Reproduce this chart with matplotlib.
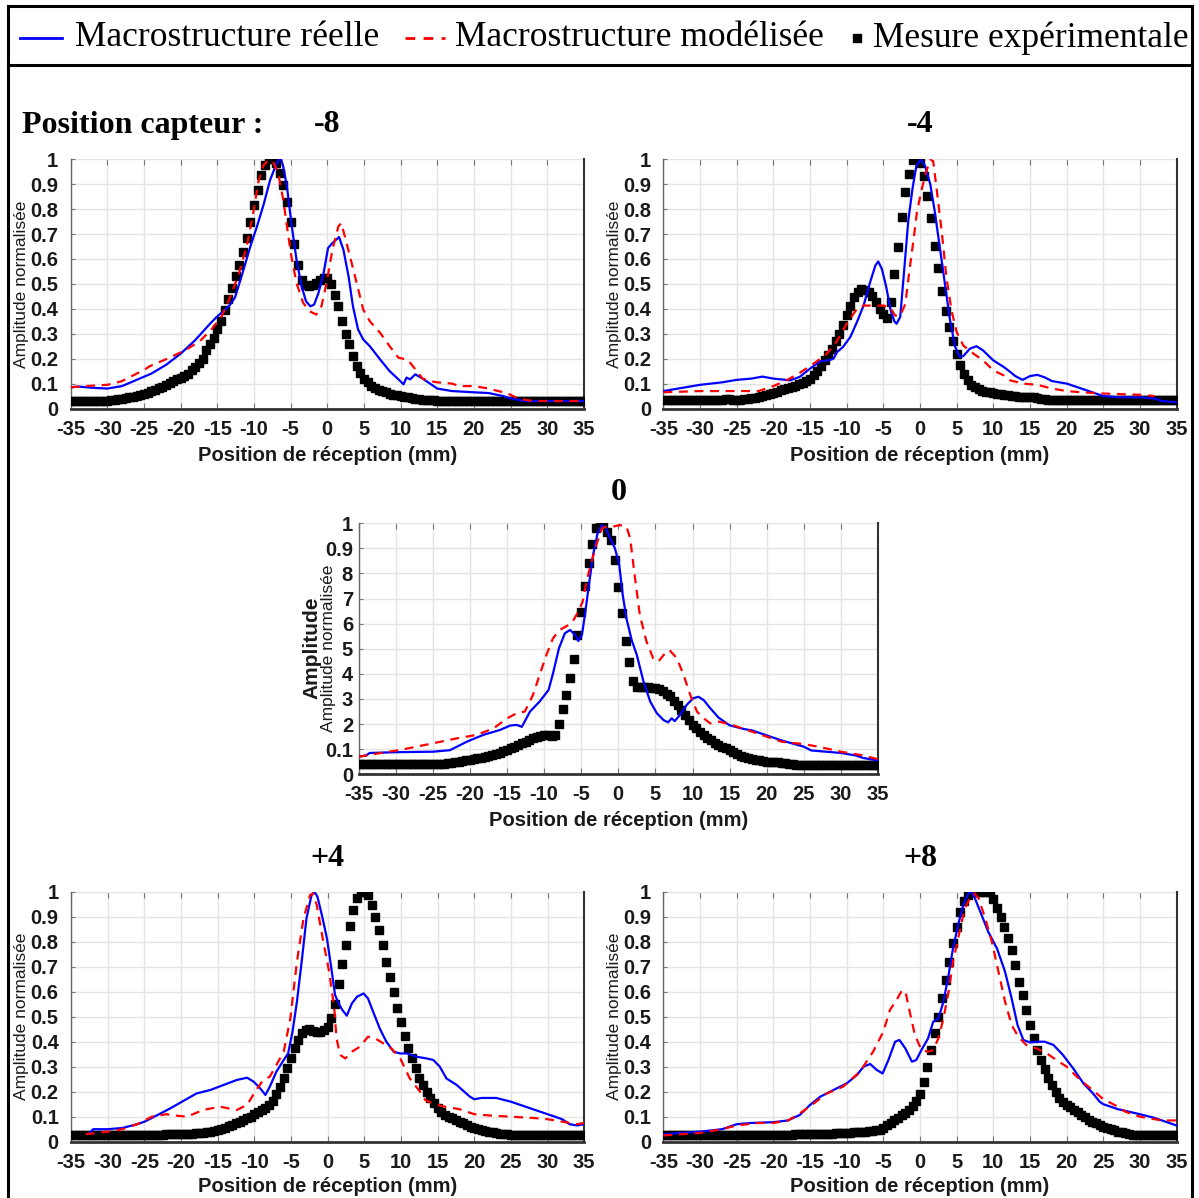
import numpy as np
import matplotlib
matplotlib.use("Agg")
import matplotlib.pyplot as plt
from matplotlib.lines import Line2D

W, H = 1199, 1198

# positions de réception des mesures (pas de 0.5 mm)
x_mes = np.arange(-35, 35.01, 0.5)

# ---------- capteur -8 ----------
mes_m8 = [
    0.03, 0.03, 0.03, 0.03, 0.03, 0.03, 0.03, 0.03, 0.03, 0.031,
    0.032, 0.034, 0.036, 0.038, 0.04, 0.042, 0.045, 0.048, 0.05, 0.054,
    0.058, 0.063, 0.07, 0.076, 0.082, 0.088, 0.095, 0.103, 0.11, 0.118,
    0.124, 0.132, 0.14, 0.155, 0.166, 0.182, 0.2, 0.235, 0.26, 0.284,
    0.32, 0.35, 0.395, 0.44, 0.484, 0.53, 0.575, 0.63, 0.684, 0.747,
    0.817, 0.877, 0.937, 0.977, 1.0, 1.0, 0.984, 0.947, 0.895, 0.828,
    0.75, 0.66, 0.577, 0.517, 0.495, 0.49, 0.495, 0.503, 0.515, 0.524,
    0.522, 0.5, 0.457, 0.41, 0.35, 0.3, 0.26, 0.21, 0.172, 0.141,
    0.12, 0.105, 0.09, 0.083, 0.076, 0.07, 0.065, 0.06, 0.056, 0.053,
    0.05, 0.048, 0.045, 0.041, 0.039, 0.037, 0.036, 0.035, 0.034, 0.033,
    0.032, 0.031, 0.03, 0.03, 0.03, 0.03, 0.03, 0.03, 0.03, 0.03,
    0.03, 0.03, 0.03, 0.03, 0.03, 0.03, 0.03, 0.03, 0.03, 0.03,
    0.03, 0.03, 0.03, 0.03, 0.03, 0.03, 0.03, 0.03, 0.03, 0.03,
    0.03, 0.03, 0.03, 0.03, 0.03, 0.03, 0.03, 0.03, 0.03, 0.03,
    0.03]
reel_m8_x = [-35, -34, -32, -30, -28, -26, -24, -22, -20, -18,
             -16, -15, -14, -13.3, -12.6, -11.7, -10.5, -9.6, -8.7, -7.8,
             -7.1, -6.6, -6.3, -6.0, -5.5, -4.9, -4.2, -3.5, -2.9, -2.3,
             -1.8, -1.2, -0.5, 0.1, 0.7, 1.3, 1.6, 2.2, 2.9, 3.5,
             4.2, 4.9, 5.8, 7.2, 8.5, 9.7, 10.4, 10.8, 11.3, 12.0,
             13, 14, 15, 17, 20, 22, 24, 25, 26, 27, 35]
reel_m8_y = [0.085, 0.088, 0.083, 0.08, 0.09, 0.115, 0.14, 0.175, 0.22, 0.275,
             0.34, 0.37, 0.395, 0.415, 0.445, 0.53, 0.65, 0.73, 0.817, 0.917,
             0.97, 1.0, 1.0, 0.97, 0.89, 0.744, 0.597, 0.49, 0.43, 0.41,
             0.417, 0.464, 0.544, 0.644, 0.664, 0.68, 0.688, 0.637, 0.53, 0.41,
             0.317, 0.277, 0.25, 0.197, 0.15, 0.117, 0.097, 0.124, 0.117, 0.137,
             0.12, 0.1, 0.08, 0.07, 0.065, 0.062, 0.05, 0.04, 0.035, 0.03, 0.03]
mod_m8_x = [-35, -33, -30, -28, -25, -24.2, -21.5, -19.2, -17.4, -15.8,
            -14.4, -13.3, -12.1, -11.0, -10.1, -9.4, -8.7, -8.0, -7.4, -6.7,
            -6.0, -5.5, -4.9, -4.2, -3.3, -2.4, -1.5, -0.8, -0.1, 0.7,
            1.5, 1.9, 2.4, 3.1, 4.0, 4.9, 5.8, 7.2, 8.5, 9.7,
            11.0, 12.2, 13, 14, 15, 17, 18, 20, 22, 24,
            25, 26, 27, 28, 35]
mod_m8_y = [0.085, 0.09, 0.095, 0.11, 0.155, 0.17, 0.204, 0.237, 0.27, 0.317,
            0.37, 0.444, 0.537, 0.65, 0.784, 0.91, 0.977, 0.997, 0.99, 0.944,
            0.837, 0.73, 0.61, 0.504, 0.424, 0.39, 0.377, 0.41, 0.504, 0.637,
            0.73, 0.744, 0.69, 0.61, 0.504, 0.397, 0.35, 0.304, 0.25, 0.204,
            0.195, 0.15, 0.12, 0.11, 0.105, 0.1, 0.09, 0.09, 0.08, 0.065,
            0.055, 0.04, 0.035, 0.03, 0.03]

# ---------- capteur -4 ----------
mes_m4 = [
    0.035, 0.035, 0.035, 0.035, 0.035, 0.035, 0.035, 0.035, 0.035, 0.035,
    0.035, 0.035, 0.035, 0.035, 0.035, 0.036, 0.036, 0.038, 0.037, 0.035,
    0.035, 0.036, 0.038, 0.04, 0.042, 0.044, 0.047, 0.05, 0.055, 0.06,
    0.064, 0.068, 0.073, 0.077, 0.082, 0.087, 0.092, 0.097, 0.103, 0.11,
    0.118, 0.133, 0.15, 0.17, 0.195, 0.215, 0.24, 0.27, 0.3, 0.335,
    0.375, 0.41, 0.447, 0.467, 0.48, 0.476, 0.467, 0.45, 0.427, 0.4,
    0.38, 0.364, 0.427, 0.54, 0.647, 0.767, 0.867, 0.943, 0.997, 1.0,
    0.987, 0.933, 0.853, 0.763, 0.653, 0.564, 0.473, 0.39, 0.327, 0.27,
    0.22, 0.173, 0.14, 0.113, 0.093, 0.085, 0.078, 0.072, 0.068, 0.065,
    0.062, 0.06, 0.058, 0.056, 0.054, 0.052, 0.05, 0.048, 0.047, 0.046,
    0.045, 0.045, 0.042, 0.04, 0.038, 0.036, 0.035, 0.035, 0.035, 0.035,
    0.035, 0.035, 0.035, 0.035, 0.035, 0.035, 0.035, 0.035, 0.035, 0.035,
    0.035, 0.035, 0.035, 0.035, 0.035, 0.035, 0.035, 0.035, 0.035, 0.035,
    0.035, 0.035, 0.035, 0.035, 0.035, 0.035, 0.035, 0.035, 0.035, 0.035,
    0.035]
reel_m4_x = [-35, -32, -30, -27, -25, -23, -21.5, -20, -17.7, -16.4,
             -15, -13.6, -12.5, -11.8, -11.3, -10.5, -9.5, -8.6, -7.7, -6.8,
             -6.1, -5.7, -5.2, -4.6, -4.0, -3.5, -3.2, -2.7, -2.2, -1.6,
             -1.0, -0.5, 0.1, 0.7, 1.4, 2.0, 2.7, 3.4, 4.1, 4.8,
             5.4, 5.9, 6.8, 7.7, 8.6, 10.0, 11.4, 12.3, 13, 14,
             15, 16, 17, 18, 20, 22, 24, 25, 27, 30,
             32, 33, 35]
reel_m4_y = [0.07, 0.085, 0.095, 0.105, 0.115, 0.12, 0.128, 0.12, 0.113, 0.127,
             0.16, 0.19, 0.193, 0.2, 0.227, 0.247, 0.287, 0.347, 0.413, 0.507,
             0.573, 0.59, 0.56, 0.487, 0.393, 0.35, 0.34, 0.367, 0.54, 0.753,
             0.887, 0.973, 1.0, 0.973, 0.9, 0.793, 0.647, 0.5, 0.353, 0.247,
             0.207, 0.21, 0.24, 0.25, 0.233, 0.193, 0.167, 0.147, 0.13, 0.115,
             0.13, 0.135, 0.125, 0.11, 0.1, 0.08, 0.06, 0.05, 0.045, 0.045,
             0.04, 0.03, 0.025]
mod_m4_x = [-35, -30, -25, -22, -20, -18.2, -16.4, -14.5, -12.7, -11.4,
            -10, -8.6, -7.7, -6.4, -5.0, -4.1, -3.4, -2.7, -2.0, -1.5,
            -0.9, -0.4, 0.3, 0.8, 1.4, 1.8, 2.3, 3.0, 3.6, 4.3,
            5.0, 5.9, 7.3, 8.6, 10.0, 11.4, 12.3, 14, 16, 18,
            20, 22, 25, 30, 32]
mod_m4_y = [0.065, 0.07, 0.07, 0.07, 0.09, 0.113, 0.143, 0.18, 0.22, 0.267,
            0.34, 0.4, 0.413, 0.413, 0.413, 0.407, 0.373, 0.373, 0.42, 0.54,
            0.673, 0.793, 0.887, 0.947, 0.997, 0.993, 0.873, 0.7, 0.527, 0.393,
            0.307, 0.253, 0.22, 0.193, 0.153, 0.133, 0.113, 0.1, 0.095, 0.08,
            0.07, 0.065, 0.06, 0.055, 0.05]

# ---------- capteur 0 ----------
mes_0 = [
    0.04, 0.04, 0.04, 0.04, 0.04, 0.04, 0.04, 0.04, 0.04, 0.04,
    0.04, 0.04, 0.04, 0.04, 0.04, 0.04, 0.04, 0.04, 0.04, 0.04,
    0.04, 0.041, 0.042, 0.043, 0.045, 0.046, 0.048, 0.05, 0.052, 0.055,
    0.056, 0.06, 0.063, 0.066, 0.07, 0.074, 0.078, 0.082, 0.086, 0.092,
    0.097, 0.103, 0.11, 0.117, 0.123, 0.13, 0.138, 0.146, 0.15, 0.154,
    0.156, 0.157, 0.152, 0.155, 0.2, 0.26, 0.316, 0.382, 0.458, 0.555,
    0.648, 0.75, 0.843, 0.916, 0.98, 1.0, 0.996, 0.967, 0.934, 0.854,
    0.748, 0.641, 0.531, 0.449, 0.372, 0.349, 0.347, 0.347, 0.346, 0.345,
    0.342, 0.338, 0.33, 0.32, 0.31, 0.293, 0.276, 0.256, 0.236, 0.216,
    0.197, 0.183, 0.17, 0.158, 0.146, 0.135, 0.124, 0.116, 0.11, 0.103,
    0.096, 0.088, 0.08, 0.074, 0.068, 0.064, 0.06, 0.057, 0.055, 0.053,
    0.05, 0.05, 0.05, 0.049, 0.047, 0.045, 0.042, 0.04, 0.038, 0.037,
    0.037, 0.037, 0.037, 0.037, 0.037, 0.037, 0.037, 0.037, 0.037, 0.037,
    0.037, 0.037, 0.037, 0.037, 0.037, 0.037, 0.037, 0.037, 0.037, 0.037,
    0.037]
reel_0_x = [-35, -34, -33.5, -30, -25, -22.7, -20.4, -18.2, -15.9, -14.6,
            -13.7, -13.0, -11.9, -10.6, -9.4, -8.8, -8.0, -7.2, -6.5, -5.8,
            -5.4, -4.9, -4.5, -3.9, -3.4, -2.8, -2.2, -1.7, -1.1, -0.45,
            0.13, 0.6, 1.1, 1.8, 2.5, 3.4, 4.3, 5.2, 6.1, 6.7,
            7.2, 7.6, 8.3, 9.2, 10.1, 10.8, 11.5, 12.4, 13.5, 15,
            17, 18, 20, 22, 25, 26, 28, 30, 32, 33, 35]
reel_0_y = [0.07, 0.075, 0.085, 0.088, 0.09, 0.096, 0.13, 0.157, 0.177, 0.194,
            0.197, 0.189, 0.25, 0.29, 0.336, 0.402, 0.502, 0.562, 0.575, 0.555,
            0.531, 0.555, 0.635, 0.768, 0.874, 0.96, 0.993, 0.983, 0.94, 0.9,
            0.834, 0.714, 0.621, 0.535, 0.475, 0.369, 0.29, 0.243, 0.216, 0.207,
            0.223, 0.212, 0.236, 0.276, 0.303, 0.309, 0.296, 0.263, 0.226, 0.195,
            0.18, 0.175, 0.155, 0.135, 0.11, 0.095, 0.09, 0.085, 0.075, 0.065, 0.055]
mod_0_x = [-35, -32, -29.4, -24.9, -21.8, -19.1, -16.8, -15.0, -13.7, -12.6,
           -11.5, -10.6, -9.7, -8.8, -7.9, -6.7, -6.1, -5.4, -4.8, -4.3,
           -3.6, -2.9, -2.2, -1.6, -0.7, 0.2, 1.1, 1.6, 2.2, 2.9,
           3.8, 4.7, 5.4, 6.1, 6.9, 7.9, 8.8, 9.7, 10.6, 11.5,
           12.4, 13.5, 15, 17, 20, 22, 25, 27, 30, 33, 35]
mod_0_y = [0.07, 0.085, 0.097, 0.124, 0.143, 0.157, 0.183, 0.223, 0.243, 0.25,
           0.316, 0.396, 0.475, 0.542, 0.575, 0.595, 0.611, 0.648, 0.688, 0.768,
           0.847, 0.92, 0.98, 0.987, 0.987, 0.993, 0.987, 0.94, 0.794, 0.635,
           0.529, 0.462, 0.449, 0.475, 0.495, 0.462, 0.396, 0.316, 0.25, 0.223,
           0.203, 0.21, 0.2, 0.18, 0.15, 0.13, 0.12, 0.11, 0.09, 0.075, 0.06]

# ---------- capteur +4 ----------
mes_p4 = [
    0.028, 0.028, 0.028, 0.028, 0.028, 0.028, 0.028, 0.028, 0.028, 0.028,
    0.028, 0.028, 0.028, 0.028, 0.028, 0.028, 0.028, 0.028, 0.028, 0.028,
    0.028, 0.028, 0.028, 0.028, 0.028, 0.028, 0.029, 0.029, 0.029, 0.03,
    0.03, 0.031, 0.031, 0.032, 0.033, 0.034, 0.035, 0.037, 0.039, 0.041,
    0.046, 0.05, 0.055, 0.061, 0.067, 0.073, 0.08, 0.086, 0.093, 0.1,
    0.11, 0.117, 0.125, 0.135, 0.147, 0.162, 0.19, 0.218, 0.256, 0.293,
    0.333, 0.373, 0.407, 0.433, 0.447, 0.451, 0.444, 0.44, 0.44, 0.447,
    0.457, 0.493, 0.551, 0.629, 0.711, 0.787, 0.864, 0.927, 0.973, 0.997,
    1.0, 0.987, 0.947, 0.9, 0.847, 0.787, 0.72, 0.66, 0.6, 0.536,
    0.48, 0.424, 0.373, 0.333, 0.293, 0.253, 0.227, 0.2, 0.173, 0.153,
    0.133, 0.12, 0.108, 0.1, 0.093, 0.087, 0.08, 0.073, 0.067, 0.06,
    0.055, 0.052, 0.048, 0.044, 0.04, 0.037, 0.035, 0.032, 0.03, 0.029,
    0.028, 0.028, 0.028, 0.028, 0.028, 0.028, 0.028, 0.028, 0.028, 0.028,
    0.028, 0.028, 0.028, 0.028, 0.028, 0.028, 0.028, 0.028, 0.028, 0.028,
    0.028]
reel_p4_x = [-32.5, -32, -30, -28, -26, -25, -23, -21.5, -19.7, -17.9,
             -16.0, -14.2, -12.4, -11.0, -10.1, -9.2, -8.5, -7.9, -7.0, -6.0,
             -5.4, -4.8, -4.2, -3.5, -2.9, -2.2, -1.8, -1.4, -0.8, -0.1,
             0.5, 1.0, 1.5, 2.0, 2.6, 3.3, 4.0, 4.9, 5.5, 6.2,
             7.1, 8.0, 9.0, 9.9, 10.8, 12.1, 13.5, 14.4, 15.3, 16.2,
             17.6, 19.4, 20, 21, 23, 25, 27, 30, 32, 33, 34, 35]
reel_p4_y = [0.035, 0.05, 0.05, 0.055, 0.07, 0.08, 0.11, 0.133, 0.163, 0.193,
             0.207, 0.227, 0.247, 0.256, 0.24, 0.213, 0.187, 0.22, 0.28, 0.327,
             0.353, 0.44, 0.56, 0.733, 0.893, 0.987, 1.0, 0.98, 0.907, 0.813,
             0.693, 0.587, 0.553, 0.527, 0.504, 0.553, 0.58, 0.593, 0.573, 0.52,
             0.453, 0.4, 0.36, 0.353, 0.353, 0.34, 0.333, 0.327, 0.3, 0.253,
             0.227, 0.18, 0.17, 0.175, 0.175, 0.16, 0.14, 0.11, 0.09, 0.07, 0.065, 0.07]
mod_p4_x = [-33, -30, -28, -26, -24, -22, -21.5, -19.2, -17.0, -14.7,
            -12.4, -11.0, -9.9, -8.8, -7.9, -7.0, -6.0, -5.1, -4.2, -3.3,
            -2.4, -2.0, -1.5, -0.6, 0.2, 0.9, 1.2, 1.7, 2.4, 3.3,
            4.4, 5.5, 6.5, 7.6, 8.7, 9.9, 11.2, 12.6, 13.3, 14.5,
            16, 18, 20, 22, 25, 28, 30, 32, 34, 35]
mod_p4_y = [0.03, 0.04, 0.05, 0.07, 0.1, 0.11, 0.107, 0.1, 0.127, 0.14,
            0.127, 0.147, 0.2, 0.247, 0.26, 0.307, 0.36, 0.493, 0.72, 0.893,
            0.987, 0.993, 0.947, 0.8, 0.68, 0.533, 0.413, 0.347, 0.333, 0.36,
            0.38, 0.42, 0.413, 0.393, 0.373, 0.333, 0.253, 0.2, 0.167, 0.15,
            0.14, 0.13, 0.11, 0.105, 0.1, 0.095, 0.09, 0.08, 0.07, 0.075]

# ---------- capteur +8 ----------
mes_p8 = [
    0.025, 0.025, 0.025, 0.025, 0.025, 0.025, 0.025, 0.025, 0.025, 0.025,
    0.025, 0.025, 0.025, 0.025, 0.025, 0.025, 0.025, 0.025, 0.025, 0.025,
    0.025, 0.025, 0.025, 0.025, 0.025, 0.026, 0.026, 0.026, 0.026, 0.027,
    0.027, 0.027, 0.027, 0.028, 0.028, 0.028, 0.029, 0.029, 0.029, 0.03,
    0.03, 0.03, 0.031, 0.031, 0.031, 0.032, 0.032, 0.033, 0.033, 0.034,
    0.035, 0.036, 0.037, 0.038, 0.039, 0.04, 0.042, 0.043, 0.045, 0.047,
    0.055, 0.067, 0.076, 0.085, 0.095, 0.107, 0.116, 0.127, 0.143, 0.162,
    0.19, 0.24, 0.3, 0.367, 0.433, 0.5, 0.573, 0.647, 0.72, 0.793,
    0.86, 0.92, 0.963, 0.985, 0.997, 1.0, 1.0, 1.0, 1.0, 1.0,
    0.97, 0.935, 0.9, 0.86, 0.816, 0.767, 0.707, 0.64, 0.587, 0.527,
    0.467, 0.413, 0.367, 0.327, 0.29, 0.256, 0.227, 0.2, 0.173, 0.158,
    0.147, 0.137, 0.127, 0.117, 0.107, 0.097, 0.087, 0.08, 0.073, 0.066,
    0.06, 0.055, 0.05, 0.045, 0.04, 0.037, 0.034, 0.031, 0.028, 0.026,
    0.025, 0.025, 0.025, 0.025, 0.025, 0.025, 0.025, 0.025, 0.025, 0.025,
    0.025]
reel_p8_x = [-35, -30, -27, -26, -25, -23, -20, -18, -16.4, -15.0,
             -13.6, -11.8, -10.0, -8.6, -7.7, -6.8, -5.9, -5.1, -4.3, -3.4,
             -2.8, -2.0, -1.1, -0.5, 0.2, 1.1, 1.8, 2.5, 3.2, 3.9,
             4.5, 5.2, 5.9, 6.6, 7.0, 7.5, 8.4, 9.3, 10.5, 11.6,
             12.5, 13.3, 14.1, 15.0, 15.9, 17.0, 18.2, 19.5, 20.9, 22.3,
             23.6, 24.5, 25, 27, 30, 32, 35]
reel_p8_y = [0.03, 0.04, 0.05, 0.06, 0.07, 0.075, 0.078, 0.085, 0.107, 0.147,
             0.18, 0.207, 0.233, 0.267, 0.3, 0.311, 0.287, 0.273, 0.327, 0.4,
             0.407, 0.373, 0.32, 0.327, 0.367, 0.413, 0.48, 0.493, 0.56, 0.667,
             0.773, 0.867, 0.947, 0.993, 1.0, 0.973, 0.907, 0.84, 0.773, 0.68,
             0.573, 0.467, 0.407, 0.397, 0.4, 0.4, 0.387, 0.347, 0.293, 0.233,
             0.193, 0.16, 0.15, 0.13, 0.11, 0.095, 0.065]
mod_p8_x = [-35, -30, -27, -25, -22, -20, -18, -16.4, -14.5, -12.7,
            -10.5, -8.2, -6.4, -5.0, -4.1, -3.2, -2.5, -2.0, -1.5, -0.7,
            0.2, 1.1, 1.8, 2.5, 3.2, 3.9, 4.5, 5.4, 6.1, 6.8,
            7.4, 8.0, 8.9, 9.8, 10.7, 11.6, 12.5, 13.4, 14.5, 15.9,
            17.3, 18.6, 20.0, 21.4, 22.7, 24.1, 25, 27, 28, 30, 33, 35]
mod_p8_y = [0.025, 0.035, 0.05, 0.065, 0.075, 0.075, 0.085, 0.113, 0.153, 0.193,
            0.22, 0.28, 0.36, 0.44, 0.527, 0.567, 0.603, 0.603, 0.533, 0.427,
            0.367, 0.36, 0.367, 0.413, 0.493, 0.6, 0.72, 0.84, 0.933, 0.973,
            0.993, 0.973, 0.893, 0.8, 0.68, 0.56, 0.467, 0.42, 0.387, 0.373,
            0.353, 0.327, 0.3, 0.26, 0.227, 0.193, 0.17, 0.14, 0.12, 0.1, 0.085, 0.085]

titres = ["-8", "-4", "0", "+4", "+8"]
x_ticks = list(range(-35, 36, 5))
y_ticks = [0, 0.1, 0.2, 0.3, 0.4, 0.5, 0.6, 0.7, 0.8, 0.9, 1]
y_labels = ["0", "0.1", "0.2", "0.3", "0.4", "0.5", "0.6", "0.7", "0.8", "0.9", "1"]
# étiquettes telles qu'elles apparaissent sur le graphe central
y_labels_centre = ["0", "0.1", "2", "3", "4", "5", "6", "7", "8", "0.9", "1"]
noms = ["Macrostructure réelle", "Macrostructure modélisée", "Mesure expérimentale"]

donnees = [
    (mes_m8, reel_m8_x, reel_m8_y, mod_m8_x, mod_m8_y),
    (mes_m4, reel_m4_x, reel_m4_y, mod_m4_x, mod_m4_y),
    (mes_0, reel_0_x, reel_0_y, mod_0_x, mod_0_y),
    (mes_p4, reel_p4_x, reel_p4_y, mod_p4_x, mod_p4_y),
    (mes_p8, reel_p8_x, reel_p8_y, mod_p8_x, mod_p8_y),
]
for d in donnees:
    assert len(d[0]) == len(x_mes)
    assert len(d[1]) == len(d[2]) and len(d[3]) == len(d[4])

# boîtes des axes en pixels : gauche, haut, droite, bas
boites = [
    (70.7, 159.3, 583.9, 408.5),
    (663.4, 159.3, 1176.6, 408.5),
    (358.6, 523.3, 878.0, 774.3),
    (71.2, 891.7, 584.2, 1141.7),
    (663.4, 891.7, 1176.6, 1141.7),
]
ylab_px = [22, 615, 329, 22, 615]
ytick_pad = [9, 9, 4, 9, 9]
xlab_py = [455, 455, 820, 1187, 1187]
titre_py = [125, 125, 493, 858, 858]

SANS = ["Liberation Sans", "DejaVu Sans"]
SERIF = ["Liberation Serif", "DejaVu Serif"]
BLEU, ROUGE = "#0000ff", "#ff0000"

fig = plt.figure(figsize=(W / 100, H / 100), dpi=100)

for i, (mes, rx, ry, mx, my) in enumerate(donnees):
    l, t, r, b = boites[i]
    ax = fig.add_axes([l / W, 1 - b / H, (r - l) / W, (b - t) / H])
    ax.plot(x_mes, mes, ls="none", marker="s", ms=5.8, color="black", zorder=3)
    ax.plot(rx, ry, color=BLEU, lw=1.6, zorder=4)
    ax.plot(mx, my, color=ROUGE, lw=1.6, ls=(0, (4, 3)), zorder=4)

    ax.set_xlim(-35, 35)
    ax.set_ylim(0, 1.0)
    ax.set_xticks(x_ticks)
    ax.set_xticklabels([str(v) for v in x_ticks])
    ax.set_yticks(y_ticks)
    ax.set_yticklabels(y_labels_centre if i == 2 else y_labels)
    for lab in ax.get_xticklabels() + ax.get_yticklabels():
        lab.set_fontfamily(SANS)
        lab.set_fontweight("bold")
        lab.set_fontsize(14.5)
        lab.set_color("#1a1a1a")
    ax.tick_params(axis="x", direction="in", top=True, length=4, color="#777777", pad=8)
    ax.tick_params(axis="y", direction="in", length=3, color="#777777", pad=ytick_pad[i])
    ax.grid(True, color="#e4e4e4", lw=1)
    ax.set_axisbelow(True)
    ax.spines["top"].set_visible(False)
    ax.spines["bottom"].set_linewidth(2)
    ax.spines["bottom"].set_color("#333333")
    ax.spines["left"].set_linewidth(1)
    ax.spines["left"].set_color("#666666")
    ax.spines["right"].set_linewidth(1.5)
    ax.spines["right"].set_color("#333333")

    ax.set_xlabel("Position de réception (mm)", fontsize=14.5, fontweight="bold",
                  family=SANS, color="#1a1a1a")
    ax.xaxis.set_label_coords(0.5, (b - xlab_py[i]) / (b - t))
    ax.xaxis.label.set_va("center")
    ax.set_ylabel("Amplitude normalisée", fontsize=12.5, family=SANS, color="#1a1a1a")
    ax.yaxis.set_label_coords((ylab_px[i] - l) / (r - l), 0.5)
    ax.yaxis.label.set_va("center")

    fig.text(((l + r) / 2) / W, 1 - titre_py[i] / H, titres[i], ha="center", va="center",
             fontsize=23, fontweight="bold", family=SERIF)

    if i == 2:
        # libellé superposé visible sur le graphe central
        fig.text(312 / W, 1 - 648 / H, "Amplitude", rotation=90, ha="center", va="center",
                 fontsize=15, fontweight="bold", family=SANS, color="#1a1a1a")

fig.text(22 / W, 1 - 125 / H, "Position capteur :", ha="left", va="center",
         fontsize=23, fontweight="bold", family=SERIF)

# cadre général et bandeau de légende
def trait(x0, y0, x1, y1, lw=2.2, **kw):
    fig.add_artist(Line2D([x0 / W, x1 / W], [1 - y0 / H, 1 - y1 / H],
                          transform=fig.transFigure, lw=lw, **kw))

trait(8, 6, 1192, 6, color="black")
trait(8, 65, 1192, 65, color="black")
trait(8, 6, 8, H, color="black")
trait(1192, 6, 1192, H, color="black")

# légende posée à la main dans le bandeau
yl = 38
trait(20, yl, 62, yl, lw=2, color=BLEU)
trait(405, yl, 445, yl, lw=2, color=ROUGE, ls=(0, (3.5, 3)))
fig.add_artist(Line2D([857 / W], [1 - yl / H], transform=fig.transFigure,
                      ls="none", marker="s", ms=6, color="black"))
for xt, nom in zip([75, 455, 873], noms):
    fig.text(xt / W, 1 - yl / H, nom, ha="left", va="center",
             fontsize=25.5, family=SERIF)

fig.savefig("out.png", dpi=100)
